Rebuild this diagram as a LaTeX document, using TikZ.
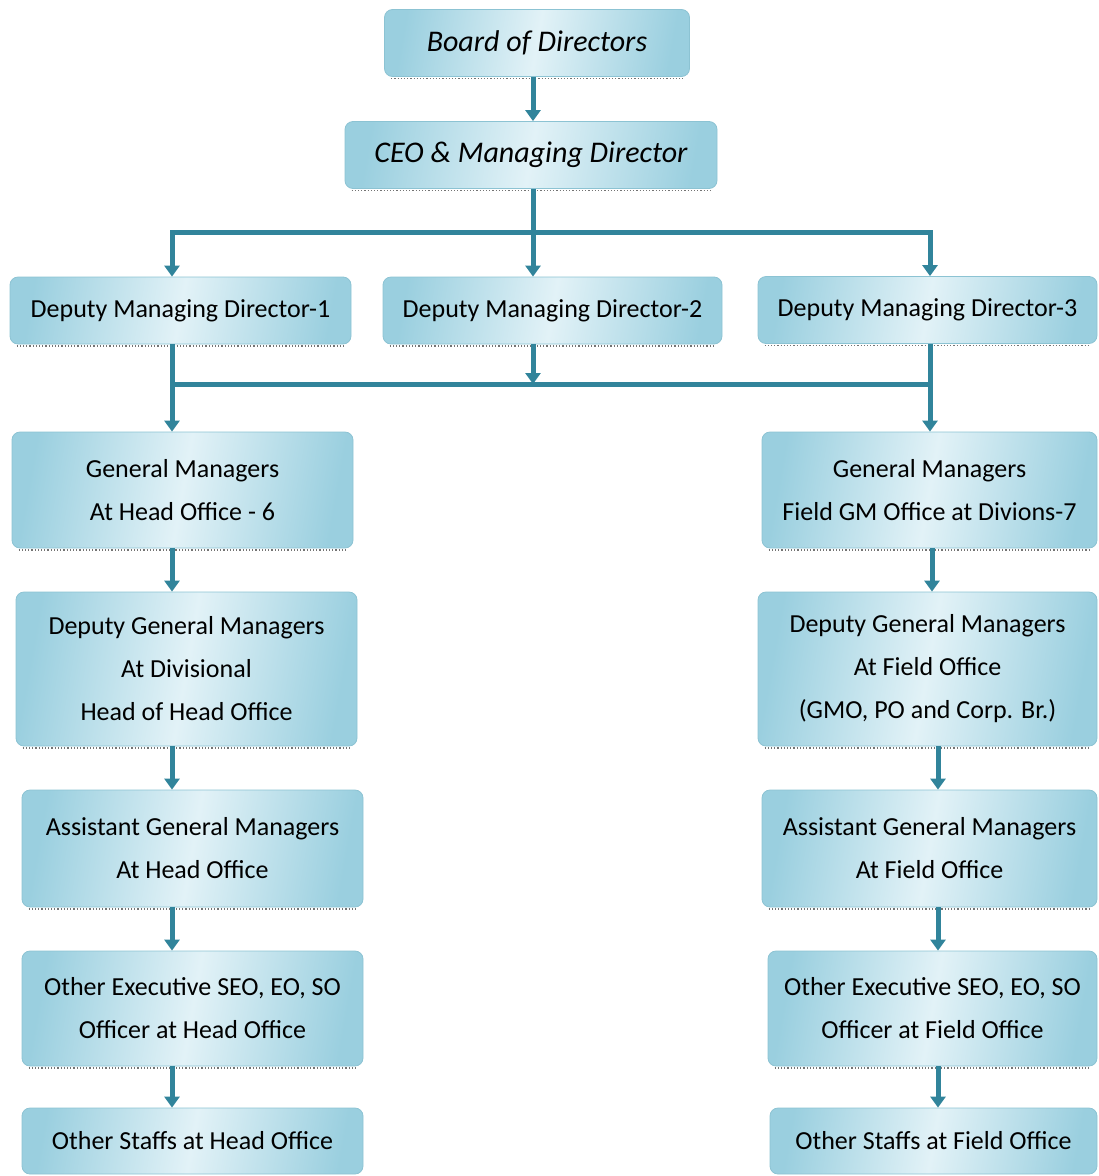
\documentclass[tikz,border=0pt]{standalone}
\usepackage{fontspec}
\setmainfont{Carlito}
\usetikzlibrary{arrows.meta}
\definecolor{linkteal}{HTML}{31849B}
\definecolor{boxdark}{HTML}{9ACFDF}
\definecolor{boxlight}{HTML}{E2F2F7}
\definecolor{boxedge}{HTML}{8CC3D3}
\tikzset{
    orgbox/.style={rounded corners=8pt,draw=boxedge,line width=0.8pt,
        left color=boxdark,right color=boxdark,middle color=boxlight,shading angle=80,
        align=center,inner sep=0pt,font=\fontsize{26}{43}\selectfont},
    topbox/.style={orgbox,font=\fontsize{30}{36}\selectfont\itshape},
    boxshadow/.style={draw=black!55,line width=1.2pt,dotted},
    link/.style={draw=linkteal,line width=5pt},
    linkarrow/.style={link,-{Triangle[length=11pt,width=15pt]}}
}
\begin{document}
\begin{tikzpicture}[x=1pt,y=-1pt]
        \useasboundingbox (0,0) rectangle (1099,1176);
        % top of the chart
        \node[topbox,minimum width=305,minimum height=67] (bod) at (537,43) {Board of Directors};
        \node[topbox,minimum width=372,minimum height=67] (ceo) at (531,155) {CEO \& Managing Director};

        \begin{scope}[every node/.style={orgbox,minimum height=67}]
            \node[minimum width=341] (dmd1) at (180.5,310.5) {Deputy Managing Director-1};
            \node[minimum width=339] (dmd2) at (552.5,310.5) {Deputy Managing Director-2};
            \node[minimum width=339] (dmd3) at (927.5,310) {Deputy Managing Director-3};
        \end{scope}

        % head office side
        \begin{scope}[every node/.style={orgbox,minimum width=341}]
            \node[minimum height=116] (gmL)  at (182.5,490)  {General Managers\\At Head Office - 6};
            \node[minimum height=154] (dgmL) at (186.5,669)  {Deputy General Managers\\At Divisional\\Head of Head Office};
            \node[minimum height=117] (agmL) at (192.5,848.5) {Assistant General Managers\\At Head Office};
            \node[minimum height=115] (oeL)  at (192.5,1008.5) {Other Executive SEO, EO, SO\\Officer at Head Office};
            \node[minimum height=66]  (osL)  at (192.5,1141) {Other Staffs at Head Office};
        \end{scope}

        % field office side
        \begin{scope}[every node/.style={orgbox}]
            \node[minimum width=335,minimum height=116] (gmR)  at (929.5,490)  {General Managers\\Field GM Office at Divions-7};
            \node[minimum width=339,minimum height=154] (dgmR) at (927.5,669)  {Deputy General Managers\\At Field Office\\(GMO, PO and Corp. Br.)};
            \node[minimum width=335,minimum height=117] (agmR) at (929.5,848.5) {Assistant General Managers\\At Field Office};
            \node[minimum width=329,minimum height=115] (oeR)  at (932.5,1008.5) {Other Executive SEO, EO, SO\\Officer at Field Office};
            \node[minimum width=327,minimum height=66]  (osR)  at (933.5,1141) {Other Staffs at Field Office};
        \end{scope}

        % dotted lower edges
        \foreach \n in {bod,ceo,dmd1,dmd2,dmd3,gmL,dgmL,agmL,oeL,gmR,dgmR,agmR,oeR}
            {\draw[boxshadow] ([xshift=7pt,yshift=-1.5pt]\n.south west) -- ([xshift=-7pt,yshift=-1.5pt]\n.south east);}

        \coordinate (jt) at (533,232);
        \coordinate (cL) at (172,232);
        \coordinate (cR) at (930,232);
        \coordinate (jb) at (533,384);
        \coordinate (bL) at (172,384);
        \coordinate (bR) at (930,384);

        \begin{scope}[linkarrow]
            \draw (bod.south -| jt) -- (ceo.north -| jt);
            \draw[-] (ceo.south -| jt) -- (jt);
            \draw[-,line cap=rect] (cL) -- (cR);
            \draw (cL) -- (dmd1.north -| cL);
            \draw (jt) -- (dmd2.north -| jt);
            \draw (cR) -- (dmd3.north -| cR);

            \draw[-,line cap=rect] (bL) -- (bR);
            \draw (dmd1.south -| bL) -- (gmL.north -| bL);
            \draw (dmd3.south -| bR) -- (gmR.north -| bR);
            \draw (dmd2.south -| jb) -- (jb);

            \foreach \a/\b in {gmL/dgmL,dgmL/agmL,agmL/oeL,oeL/osL}
                {\draw (\a.south -| bL) -- (\b.north -| bL);}
            \foreach \a/\b/\x in {gmR/dgmR/932,dgmR/agmR/938,agmR/oeR/938,oeR/osR/938}
                {\draw (\a.south -| \x,0) -- (\b.north -| \x,0);}
        \end{scope}
    \end{tikzpicture}
\end{document}
